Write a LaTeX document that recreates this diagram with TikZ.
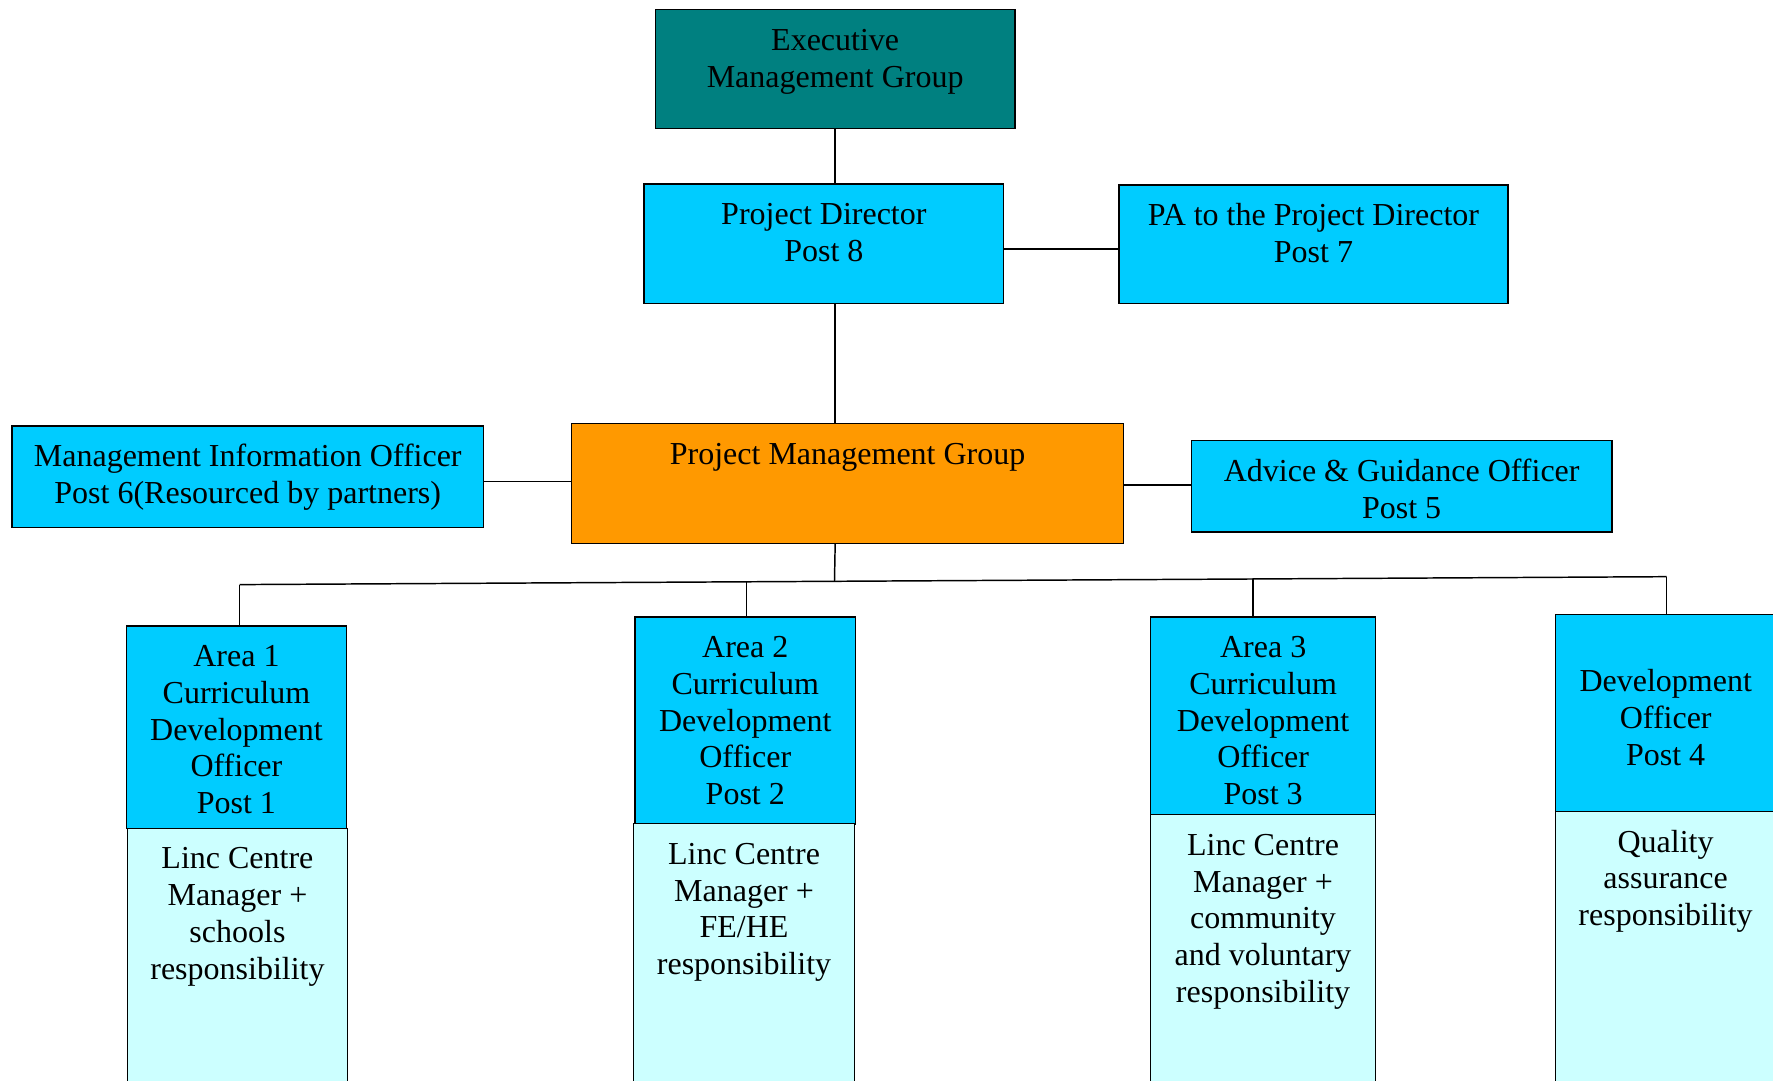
\documentclass[tikz,border=0pt]{standalone}
\usepackage{fontspec}
\setmainfont{Liberation Serif}
\definecolor{execteal}{HTML}{008080}
\definecolor{postblue}{HTML}{00CCFF}
\definecolor{pmgorange}{HTML}{FF9900}
\definecolor{dutycyan}{HTML}{CCFFFF}
\tikzset{
  post/.style={draw, line width=1.2pt, inner sep=0pt, align=center,
    anchor=north west, font=\fontsize{28.3}{32.5}\selectfont},
  duty/.style={post, line width=1pt, fill=dutycyan},
  link/.style={line width=1.3pt}
}
\begin{document}
\begin{tikzpicture}[x=1pt,y=-1pt]
        \useasboundingbox (0,0) rectangle (1568,956);
        \clip (0,0) rectangle (1568,956);
        \node[post, fill=execteal, minimum width=318pt, text height=68.5pt, text depth=36.5pt] (emg) at (579,8) {Executive\\Management Group};
        \node[post, fill=postblue, minimum width=318pt, text height=68.5pt, text depth=37.5pt] (pd) at (569,162) {Project Director\\Post 8};
        \node[post, fill=postblue, minimum width=344pt, text height=68.5pt, text depth=36.5pt] (pa) at (989,163) {PA to the Project Director\\Post 7};
        \node[post, fill=pmgorange, minimum width=488pt, text height=36pt, text depth=70pt] (pmg) at (505,374) {Project Management Group};
        \node[post, fill=postblue, minimum width=417pt, text height=68.5pt, text depth=21.5pt] (mio) at (10,376) {Management Information Officer\\Post 6(Resourced by partners)};
        \node[post, fill=postblue, minimum width=372pt, text height=68.5pt, text depth=12.5pt] (ago) at (1053,389) {Advice \& Guidance Officer\\Post 5};

        \begin{scope}[]
        % area posts
        \node[post, fill=postblue, minimum width=195pt, text height=166pt, text depth=13pt] (a1) at (111,553) {Area 1\\Curriculum\\Development\\Officer\\Post 1};
        \node[duty, minimum width=195pt, text height=133.5pt, text depth=104.5pt] (a1d) at (112,732) {Linc Centre\\Manager +\\schools\\responsibility};
        \node[post, fill=postblue, minimum width=195pt, text height=166pt, text depth=17pt] (a2) at (561,545) {Area 2\\Curriculum\\Development\\Officer\\Post 2};
        \node[duty, minimum width=195pt, text height=133.5pt, text depth=108.5pt] (a2d) at (560,728) {Linc Centre\\Manager +\\FE/HE\\responsibility};
        \node[post, fill=postblue, minimum width=199pt, text height=166pt, text depth=9pt] (a3) at (1017,545) {Area 3\\Curriculum\\Development\\Officer\\Post 3};
        \node[duty, minimum width=199pt, text height=166pt, text depth=84pt] (a3d) at (1017,720) {Linc Centre\\Manager +\\community\\and voluntary\\responsibility};
        \node[post, fill=postblue, minimum width=195pt, text height=133pt, text depth=41pt] (dev) at (1375,543) {Development\\Officer\\Post 4};
        \node[duty, minimum width=195pt, text height=101pt, text depth=152pt] (devd) at (1375,717) {Quality\\assurance\\responsibility};
        \end{scope}

        \coordinate (b1) at (212,517);
        \coordinate (b2) at (660,514.5);
        \coordinate (b3) at (738,514);
        \coordinate (b4) at (1108,512);
        \coordinate (b5) at (1474,510);

        \draw[link] (emg.south) -- (emg.south |- pd.north);
        \draw[link] (emg.south |- pd.south) -- (emg.south |- pmg.north);
        \draw[link] (pd.east |- 0,220) -- (pa.west |- 0,220);
        \draw[link] (mio.east |- 0,426) -- (pmg.west |- 0,426);
        \draw[link] (pmg.east |- 0,429) -- (ago.west |- 0,429);
        \draw[link] (emg.south |- pmg.south) -- (b3);
        \draw[link] (b1) -- (b5);
        \draw[link] (b1) -- (b1 |- a1.north);
        \draw[link] (b2) -- (b2 |- a2.north);
        \draw[link] (b4) -- (b4 |- a3.north);
        \draw[link] (b5) -- (b5 |- dev.north);
\end{tikzpicture}
\end{document}
